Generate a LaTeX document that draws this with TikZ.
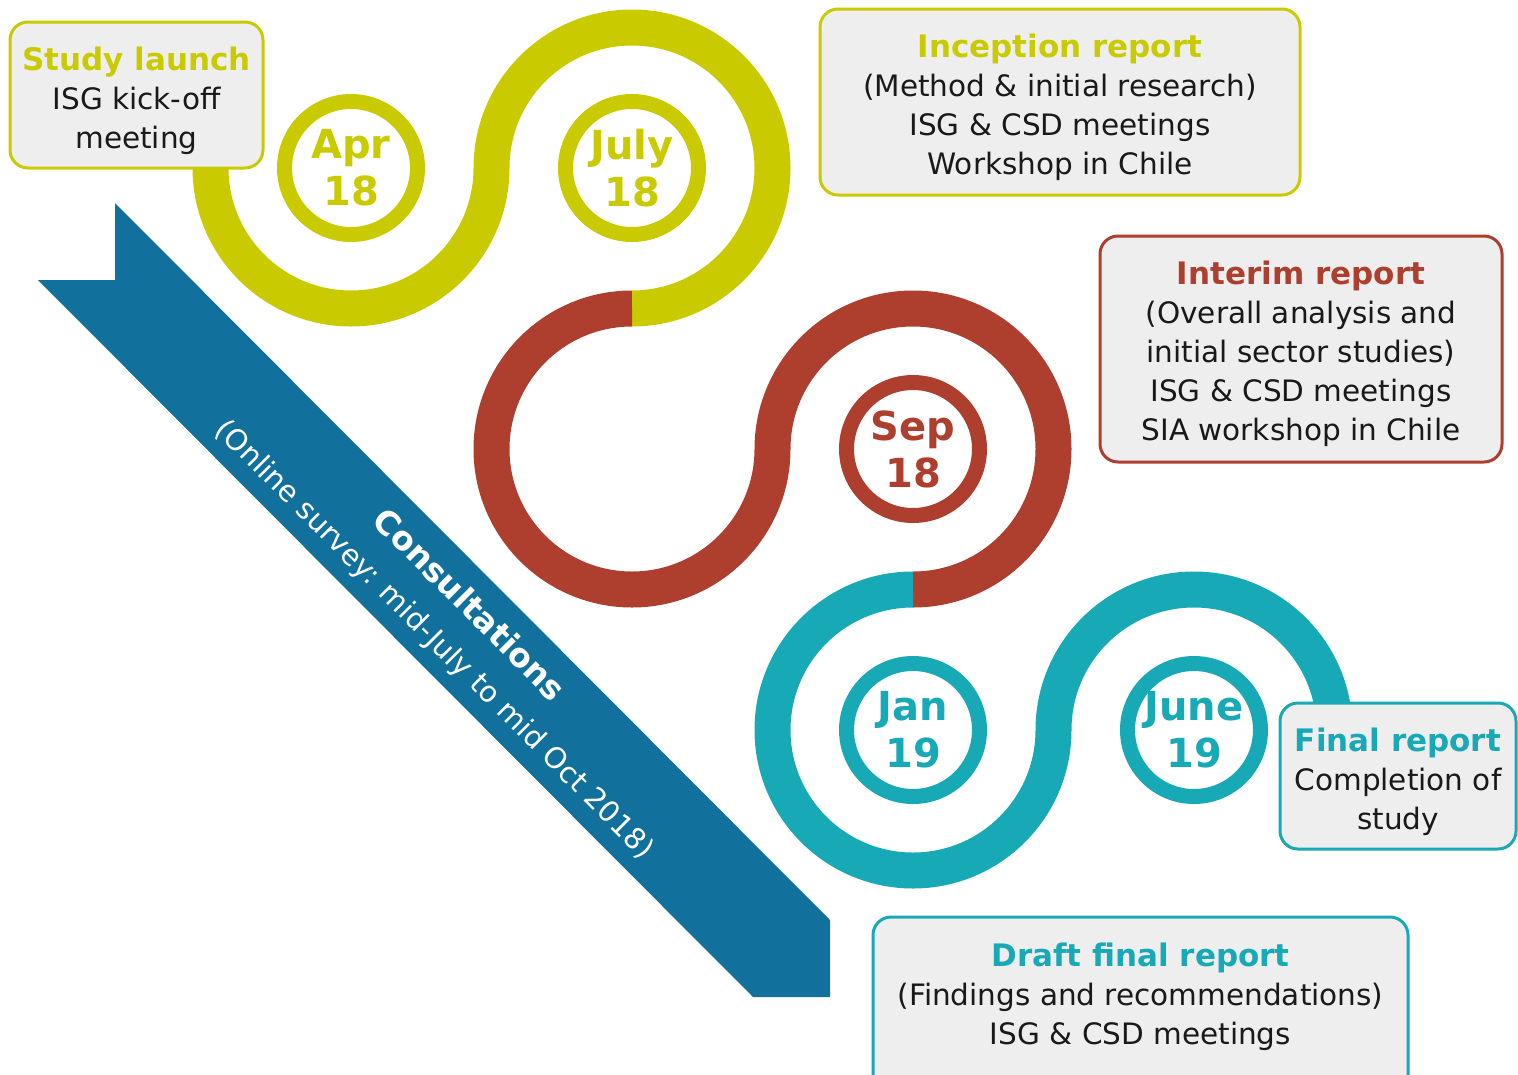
\documentclass[tikz,border=0pt]{standalone}
\usepackage{fontspec}
\setmainfont{DejaVu Sans}
\definecolor{yel}{HTML}{C9CB00}
\definecolor{rust}{HTML}{AE3E2E}
\definecolor{tealc}{HTML}{18A9B6}
\definecolor{ribbon}{HTML}{12709D}
\definecolor{boxgray}{HTML}{EEEEEE}
\newcommand\bodyfont{\fontsize{29.5}{39}\selectfont}
\newcommand\headfont{\bfseries\fontsize{31}{39}\selectfont}
\newcommand\datefont{\bfseries\fontsize{40}{47}\selectfont}
\newcommand\headline[2]{{\headfont\color{#1}#2}}
\tikzset{
  reporttext/.style={inner sep=0pt,align=center,font=\bodyfont,text=black!90},
  report/.style={draw=#1,line width=3pt,fill=boxgray,rounded corners=18pt,inner sep=0pt},
  datering/.style={circle,draw=#1,line width=15pt,fill=white,minimum size=133pt,
    inner sep=0pt,align=center,text=#1,font=\datefont},
  band/.style={line width=36pt,draw=#1},
  ribbontext/.style={rotate=-45,text=white,inner sep=0pt},
}
\begin{document}
\begin{tikzpicture}[x=1pt,y=1pt]
          \useasboundingbox (0,0) rectangle (1518,-1074);
          \clip (0,0) rectangle (1518,-1074);
          %\draw[very thin,lightgray] (0,0) grid[step=100pt] (1518,-1074);
          % consultations ribbon
          \fill[ribbon] (115,-203)--(830,-920)--(830,-997)--(753,-997)--(38,-280)--(115,-280)--cycle;
          \node[ribbontext,font=\bfseries\fontsize{33}{40}\selectfont] (consult) at (470,-604) {Consultations};
          \node[ribbontext,font=\fontsize{29}{36}\selectfont] (survey) at (434,-640)
            {(Online survey: mid-July to mid Oct 2018)};
          % the winding band
          \def\r{140.5pt}
          \draw[band=yel] (210.5,-140)--(210.5,-168) arc[start angle=180,end angle=360,radius=\r]
            arc[start angle=180,end angle=0,radius=\r]
            arc[start angle=0,end angle=-90,radius=\r] coordinate (toRust);
          \draw[band=rust] (toRust) arc[start angle=90,end angle=270,radius=\r]
            arc[start angle=270,end angle=360,radius=\r]
            arc[start angle=180,end angle=0,radius=\r]
            arc[start angle=0,end angle=-90,radius=\r] coordinate (toTeal);
          \draw[band=tealc] (toTeal) arc[start angle=90,end angle=270,radius=\r]
            arc[start angle=270,end angle=360,radius=\r]
            arc[start angle=180,end angle=0,radius=\r] coordinate (bandEnd);
          % dates
          \node[datering=yel] (apr) at (351,-168) {Apr\\18};
          \node[datering=yel] (july) at (632,-168) {July\\18};
          \node[datering=rust] (sep) at (913,-449) {Sep\\18};
          \node[datering=tealc] (jan) at (913,-730) {Jan\\19};
          \node[datering=tealc] (june) at (1194,-730) {June\\19};
          % reports
          \node[report=yel,minimum width=253pt,minimum height=146pt] (launch) at (136.5,-95) {};
          \node[reporttext] (launchText) at ([yshift=-6pt]launch.center)
            {\headline{yel}{Study launch}\\ISG kick-off\\meeting};
          \node[report=yel,minimum width=480pt,minimum height=186pt] (inception) at (1060,-102) {};
          \node[reporttext] (inceptionText) at ([yshift=-5pt]inception.center)
            {\headline{yel}{Inception report}\\(Method \& initial research)\\ISG \& CSD meetings\\Workshop in Chile};
          \node[report=rust,minimum width=402pt,minimum height=226pt] (interim) at (1301,-349) {};
          \node[reporttext] (interimText) at ([yshift=-5pt]interim.center)
            {\headline{rust}{Interim report}\\(Overall analysis and\\initial sector studies)\\ISG \& CSD meetings\\SIA workshop in Chile};
          \node[report=tealc,minimum width=236pt,minimum height=146pt] (final) at (1398,-776) {};
          \node[reporttext] (finalText) at ([yshift=-6pt]final.center)
            {\headline{tealc}{Final report}\\Completion of\\study};
          \node[report=tealc,minimum width=535pt,minimum height=180pt] (draft) at (1140.5,-1007) {};
          \node[reporttext] (draftText) at (1140.5,-997)
            {\headline{tealc}{Draft final report}\\(Findings and recommendations)\\ISG \& CSD meetings};
\end{tikzpicture}
\end{document}
